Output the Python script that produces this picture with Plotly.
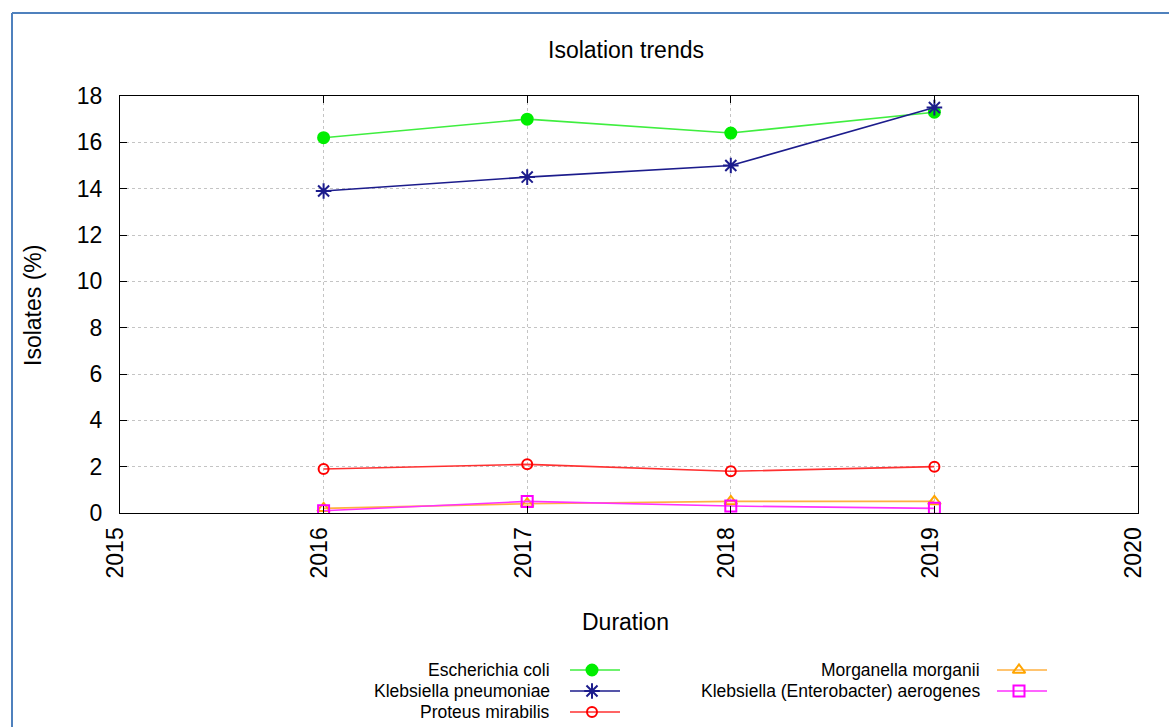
import plotly.graph_objects as go

W, H = 1169, 727
years = [2016, 2017, 2018, 2019]
series_names = ["Escherichia coli", "Klebsiella pneumoniae", "Proteus mirabilis",
                "Morganella morganii", "Klebsiella (Enterobacter) aerogenes"]
ecoli = [16.2, 17.0, 16.4, 17.3]
kpneu = [13.9, 14.5, 15.0, 17.5]
proteus = [1.9, 2.1, 1.8, 2.0]
morganella = [0.2, 0.4, 0.5, 0.5]
aerogenes = [0.1, 0.5, 0.3, 0.2]
x_ticks = [2015, 2016, 2017, 2018, 2019, 2020]
y_ticks = [0, 2, 4, 6, 8, 10, 12, 14, 16, 18]

styles = [
    dict(line="#3fee3f", mcolor="#00ee00", symbol="circle", size=11),
    dict(line="#1c1c8c", mcolor="#1c1c8c", symbol="asterisk-open", size=13),
    dict(line="#ff3030", mcolor="#ff0000", symbol="circle-open", size=10),
    dict(line="#ffb040", mcolor="#ffa500", symbol="triangle-up-open", size=11),
    dict(line="#ff30ff", mcolor="#ff00ff", symbol="square-open", size=11),
]
values = [ecoli, kpneu, proteus, morganella, aerogenes]

FONT = "Liberation Sans, Arial, sans-serif"
PX0, PX1, PY0, PY1 = 120, 1138, 96, 513
LEG_TOP = 650

fig = go.Figure()
for name, vals, st in zip(series_names, values, styles):
    fig.add_trace(go.Scatter(
        x=years, y=vals, mode="lines+markers", name=name, showlegend=False,
        line=dict(color=st["line"], width=1.6),
        marker=dict(symbol=st["symbol"], size=st["size"], color=st["mcolor"],
                    line=dict(color=st["mcolor"], width=2)),
    ))

leg_rows = [(0, 0), (0, 1), (0, 2), (1, 0), (1, 1)]
col_text_right = [552, 982]
col_line = [(570, 620), (997, 1047)]
row_y = [670, 691, 712]
for (c, r), name, st in zip(leg_rows, series_names, styles):
    x0, x1 = col_line[c]
    yy = row_y[r]
    fig.add_trace(go.Scatter(
        x=[x0, x1], y=[yy, yy], mode="lines", xaxis="x2", yaxis="y2",
        showlegend=False, hoverinfo="skip", line=dict(color=st["line"], width=1.6)))
    fig.add_trace(go.Scatter(
        x=[(x0 + x1) / 2 - 3], y=[yy], mode="markers", xaxis="x2", yaxis="y2",
        showlegend=False, hoverinfo="skip",
        marker=dict(symbol=st["symbol"], size=st["size"], color=st["mcolor"],
                    line=dict(color=st["mcolor"], width=2))))
    fig.add_annotation(text=name, xref="paper", yref="paper",
                       x=col_text_right[c] / W, y=1 - yy / H, xanchor="right",
                       yanchor="middle", showarrow=False,
                       font=dict(family=FONT, size=17.5, color="#000000"))

fig.add_annotation(text="Duration", xref="paper", yref="paper", x=625 / W, y=1 - 622 / H,
                   showarrow=False, xanchor="center", yanchor="middle",
                   font=dict(family=FONT, size=23, color="#000000"))
fig.add_annotation(text="Isolates (%)", xref="paper", yref="paper", x=33 / W, y=1 - 306 / H,
                   showarrow=False, xanchor="center", yanchor="middle", textangle=-90,
                   font=dict(family=FONT, size=23, color="#000000"))

fig.add_shape(type="line", xref="paper", yref="paper", x0=12 / W, x1=12 / W,
              y0=1 - 13 / H, y1=-0.05, line=dict(color="#4f81bd", width=2))
fig.add_shape(type="line", xref="paper", yref="paper", x0=12 / W, x1=1.05,
              y0=1 - 13 / H, y1=1 - 13 / H, line=dict(color="#4f81bd", width=2))

axis_common = dict(showline=True, linecolor="#000000", linewidth=1.2, mirror="ticks",
                   ticks="inside", ticklen=7, tickcolor="#000000", tickwidth=1,
                   showgrid=True, gridcolor="#c4c4c4", griddash="3px,3px", gridwidth=1,
                   zeroline=False, tickfont=dict(family=FONT, size=23, color="#000000"))

fig.update_layout(
    width=W, height=H, autosize=False,
    margin=dict(l=0, r=0, t=0, b=0),
    paper_bgcolor="#ffffff", plot_bgcolor="rgba(0,0,0,0)",
    title=dict(text="Isolation trends", x=626 / W, xanchor="center", y=1 - 50 / H,
               yanchor="middle", font=dict(family=FONT, size=23, color="#000000")),
    xaxis=dict(range=[x_ticks[0], x_ticks[-1]], tickvals=x_ticks,
               ticktext=[str(v) for v in x_ticks], tickangle=-90,
               ticklabelstandoff=4, ticklabelshift=-4,
               domain=[PX0 / W, PX1 / W], anchor="y", automargin=False, **axis_common),
    yaxis=dict(range=[y_ticks[0], y_ticks[-1]], tickvals=y_ticks, ticklabelstandoff=12,
               domain=[1 - PY1 / H, 1 - PY0 / H], anchor="x", automargin=False,
               **axis_common),
    xaxis2=dict(domain=[0, 1], range=[0, W], visible=False, anchor="y2", fixedrange=True),
    yaxis2=dict(domain=[0, 1 - LEG_TOP / H], range=[H, LEG_TOP], visible=False,
                anchor="x2", fixedrange=True),
    showlegend=False,
)
fig.write_html("out.html", config={"displayModeBar": False},
               post_script="document.body.style.margin='0px';")
